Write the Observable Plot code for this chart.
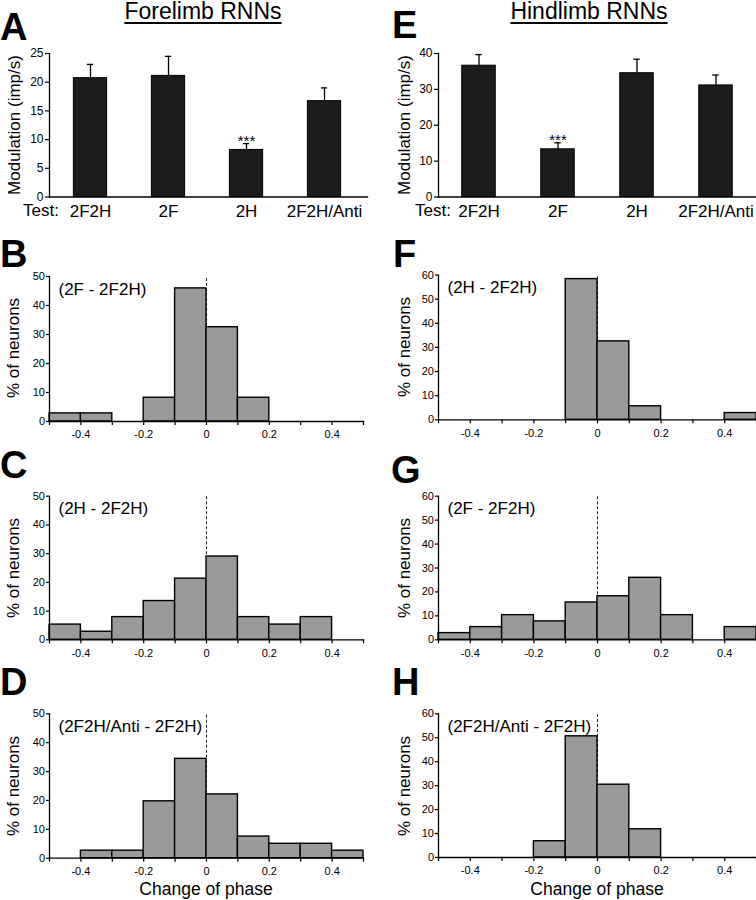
<!DOCTYPE html>
<html><head><meta charset="utf-8">
<script src="https://cdn.jsdelivr.net/npm/d3@7"></script>
<script src="https://cdn.jsdelivr.net/npm/@observablehq/plot@0.6"></script>
<style>
body{margin:0;background:#fff;}
#fig{position:relative;width:756px;height:900px;overflow:hidden;font-family:"Liberation Sans",Arial,Helvetica,sans-serif;color:#000;background:#fff;}
.abs{position:absolute;white-space:nowrap;line-height:1;}
.plot{position:absolute;}
.plot svg{display:block;}
</style></head><body><div id="fig"></div>
<script>
// ---- data ----
const tests = ["2F2H", "2F", "2H", "2F2H/Anti"];
const foreMean = [20.7, 21.1, 8.2, 16.7];
const foreErr  = [23.1, 24.5, 9.3, 19.0];
const foreSig  = ["", "", "***", ""];
const hindMean = [36.6, 13.3, 34.5, 31.1];
const hindErr  = [39.7, 15.1, 38.4, 34.0];
const hindSig  = ["", "***", "", ""];
const foreTicks = [0, 5, 10, 15, 20, 25];
const hindTicks = [0, 10, 20, 30, 40];

const binStarts = [-0.5, -0.4, -0.3, -0.2, -0.1, 0, 0.1, 0.2, 0.3, 0.4];
const binEnds   = [-0.4, -0.3, -0.2, -0.1, 0, 0.1, 0.2, 0.3, 0.4, 0.5];
const histB = [2.8, 2.8, 0, 8.2, 45.9, 32.5, 8.2, 0, 0, 0];
const histC = [5.3, 2.8, 7.9, 13.5, 21.3, 29.0, 7.9, 5.3, 7.9, 0];
const histD = [0, 2.6, 2.6, 19.7, 34.4, 22.1, 7.5, 5.0, 5.0, 2.6];
const histF = [0, 0, 0, 0, 58.3, 32.5, 5.6, 0, 0, 2.8];
const histG = [2.8, 5.3, 10.3, 7.7, 15.6, 18.2, 25.9, 10.3, 0, 5.3];
const histH = [0, 0, 0, 6.8, 50.6, 30.4, 11.8, 0, 0, 0];
const ticks50 = [0, 10, 20, 30, 40, 50];
const ticks60 = [0, 10, 20, 30, 40, 50, 60];
const phaseTicks  = [-0.5, -0.4, -0.3, -0.2, -0.1, 0, 0.1, 0.2, 0.3, 0.4, 0.5];
const phaseLabels = [-0.4, -0.2, 0, 0.2, 0.4];

// ---- helpers ----
const FONT = '"Liberation Sans", Arial, Helvetica, sans-serif';
const fig = document.getElementById("fig");
const STYLE = {fontFamily: FONT, background: "transparent", color: "#000", overflow: "visible"};

function place(svg, left, top, w) {
  const d = document.createElement("div");
  d.className = "plot";
  d.style.left = left + "px"; d.style.top = top + "px"; d.style.width = w + "px";
  d.appendChild(svg); fig.appendChild(d);
}
function hlabel(text, x, baseline, size, o = {}) {
  const d = document.createElement("div");
  d.className = "abs"; d.textContent = text;
  d.style.fontSize = size + "px";
  d.style.top = (baseline - 0.8465 * size) + "px";
  d.style.left = x + "px";
  if (o.center) d.style.transform = "translateX(-50%)";
  if (o.bold) d.style.fontWeight = "bold";
  if (o.underline) { d.style.textDecoration = "underline"; d.style.textUnderlineOffset = "3px"; d.style.textDecorationThickness = "1.5px"; }
  fig.appendChild(d);
}
function vlabel(text, cx, cy, size) {
  const d = document.createElement("div");
  d.className = "abs"; d.textContent = text;
  d.style.fontSize = size + "px";
  d.style.left = cx + "px"; d.style.top = cy + "px";
  d.style.transform = "translate(-50%,-50%) rotate(-90deg)";
  fig.appendChild(d);
}

function barPanel({means, errs, sig, yTicks, yMax, ml, mr, range}) {
  const data = tests.map((t, i) => ({test: t, mean: means[i], err: errs[i], sig: sig[i]}));
  const bw = (range[1] - range[0]) / tests.length;
  const inset = (bw - 34) / 2;
  const capInset = (bw - 7) / 2;
  return Plot.plot({
    width: 378, height: 190,
    marginLeft: ml, marginRight: mr, marginTop: 13, marginBottom: 33.5,
    style: STYLE,
    x: {domain: tests, range, padding: 0},
    y: {domain: [0, yMax]},
    marks: [
      Plot.ruleX(data, {x: "test", y1: "mean", y2: "err", stroke: "#000", strokeWidth: 1.3}),
      Plot.tickY(data, {x: "test", y: "err", stroke: "#000", strokeWidth: 1.3, insetLeft: capInset, insetRight: capInset}),
      Plot.barY(data, {x: "test", y: "mean", fill: "#1c1c1c", stroke: "#000", strokeWidth: 1, insetLeft: inset, insetRight: inset}),
      Plot.text(data.filter(d => d.sig), {x: "test", y: "err", text: "sig", lineAnchor: "bottom", dy: 2, fontSize: 15}),
      Plot.frame({anchor: "left", strokeWidth: 1.3}),
      Plot.frame({anchor: "bottom", strokeWidth: 1.3}),
      Plot.axisY({ticks: yTicks, tickSize: 4, tickPadding: 2, label: null, fontSize: 12, strokeWidth: 1.2}),
      Plot.axisX({tickSize: 0, tickPadding: 8, label: null, fontSize: 17})
    ]
  });
}

function histPanel({values, yMax, yTicks, note, ml, mr, mt, mb}) {
  const bins = binStarts.map((s, i) => ({x1: s, x2: binEnds[i], pct: values[i]})).filter(d => d.pct > 0);
  const fmt = d => phaseLabels.includes(d) ? (d === 0 ? "0" : d.toFixed(1)) : "";
  return Plot.plot({
    width: 378, height: 200,
    marginLeft: ml, marginRight: mr, marginTop: mt, marginBottom: mb,
    style: STYLE,
    x: {domain: [-0.5, 0.5]},
    y: {domain: [0, yMax]},
    marks: [
      Plot.ruleX([0], {y1: 0, y2: yMax, stroke: "#222", strokeWidth: 1, strokeDasharray: "3,2"}),
      Plot.rect(bins, {x1: "x1", x2: "x2", y1: 0, y2: "pct", fill: "#9a9a9a", stroke: "#000", strokeWidth: 1.4}),
      Plot.frame({anchor: "left", strokeWidth: 1.3}),
      Plot.frame({anchor: "bottom", strokeWidth: 1.3}),
      Plot.axisY({ticks: yTicks, tickSize: 3, tickPadding: 1.5, label: null, fontSize: 11, strokeWidth: 1.2}),
      Plot.axisX({ticks: phaseTicks, tickFormat: fmt, tickSize: 4, tickPadding: 5, label: null, fontSize: 11, strokeWidth: 1.2}),
      Plot.text([note], {text: d => d, frameAnchor: "top-left", textAnchor: "start", lineAnchor: "bottom", dx: 9, dy: 18, fontSize: 17})
    ]
  });
}

// ---- panels ----
place(barPanel({means: foreMean, errs: foreErr, sig: foreSig, yTicks: foreTicks, yMax: 25, ml: 49, mr: 11, range: [49, 364]}), 0, 40, 378);
place(barPanel({means: hindMean, errs: hindErr, sig: hindSig, yTicks: hindTicks, yMax: 40, ml: 60, mr: 0, range: [60, 378]}), 378, 40, 378);

place(histPanel({values: histB, yMax: 50, yTicks: ticks50, note: "(2F - 2F2H)", ml: 49, mr: 15, mt: 26, mb: 29}), 0, 250, 378);
place(histPanel({values: histF, yMax: 60, yTicks: ticks60, note: "(2H - 2F2H)", ml: 60, mr: 0, mt: 24.5, mb: 30.7}), 378, 250, 378);
place(histPanel({values: histC, yMax: 50, yTicks: ticks50, note: "(2H - 2F2H)", ml: 49, mr: 15, mt: 25.7, mb: 30.7}), 0, 470, 378);
place(histPanel({values: histG, yMax: 60, yTicks: ticks60, note: "(2F - 2F2H)", ml: 60, mr: 0, mt: 25.7, mb: 30.7}), 378, 470, 378);
place(histPanel({values: histD, yMax: 50, yTicks: ticks50, note: "(2F2H/Anti - 2F2H)", ml: 49, mr: 15, mt: 23.3, mb: 32.3}), 0, 690, 378);
place(histPanel({values: histH, yMax: 60, yTicks: ticks60, note: "(2F2H/Anti - 2F2H)", ml: 60, mr: 0, mt: 23.3, mb: 33}), 378, 690, 378);

// ---- text ----
hlabel("Forelimb RNNs", 203, 19.5, 23, {center: true, underline: true});
hlabel("Hindlimb RNNs", 589, 19.5, 23, {center: true, underline: true});
hlabel("A", 0, 40, 38, {bold: true});
hlabel("E", 392, 38.5, 38, {bold: true});
hlabel("B", 0, 266.7, 38, {bold: true});
hlabel("F", 393, 266.7, 38, {bold: true});
hlabel("C", 0, 478, 38, {bold: true});
hlabel("G", 391, 483, 38, {bold: true});
hlabel("D", 0, 695, 38, {bold: true});
hlabel("H", 392, 695, 38, {bold: true});
hlabel("Test:", 23, 216.7, 17);
hlabel("Test:", 415, 216.7, 17);
vlabel("Modulation (imp/s)", 13.5, 125, 17);
vlabel("Modulation (imp/s)", 403.8, 125, 17);
vlabel("% of neurons", 13.3, 348, 17);
vlabel("% of neurons", 403.5, 347, 17);
vlabel("% of neurons", 13.3, 567.5, 17);
vlabel("% of neurons", 403.5, 567.5, 17);
vlabel("% of neurons", 13.3, 785.5, 17);
vlabel("% of neurons", 403.5, 785.5, 17);
hlabel("Change of phase", 206, 896, 17.5, {center: true});
hlabel("Change of phase", 597, 896, 17.5, {center: true});
</script></body></html>
